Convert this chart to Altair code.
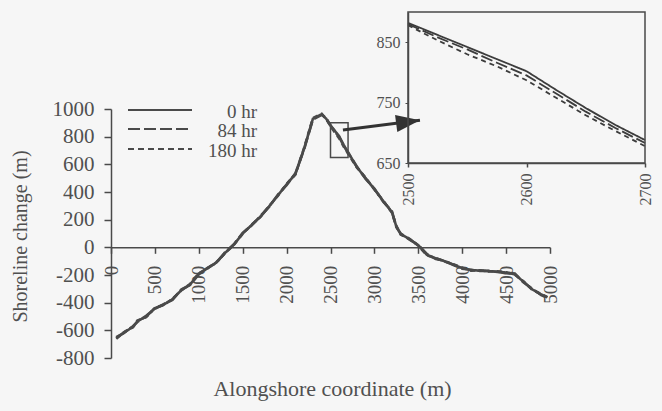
import altair as alt
import pandas as pd

# Alongshore coordinate of each profile point (m)
x_pos = [60, 150, 250, 300, 400, 500, 600, 700, 800, 900,
         1000, 1100, 1200, 1300, 1400, 1500, 1600, 1700, 1800, 1900,
         2000, 2100, 2200, 2300, 2400, 2450,
         2500, 2525, 2550, 2575, 2600, 2625, 2650, 2675, 2700,
         2800, 2900, 3000, 3100, 3200, 3250, 3300, 3400, 3500, 3600,
         3700, 3800, 3900, 4000, 4100, 4200, 4300, 4400, 4500, 4600,
         4700, 4800, 4900, 4970]

# Shoreline change (m) at each time
hr0 = [-655, -615, -575, -535, -500, -440, -415, -375, -310, -270,
       -190, -150, -110, -40, 20, 100, 160, 220, 295, 375,
       455, 530, 715, 930, 962, 930,
       882, 862, 842, 822, 802, 771, 741, 713, 688,
       580, 500, 420, 335, 255, 150, 95, 60, 15, -55,
       -80, -100, -125, -150, -165, -168, -172, -176, -182, -195,
       -250, -305, -340, -362]
hr84 = [-650, -618, -570, -540, -495, -445, -410, -380, -305, -272,
        -195, -148, -112, -35, 22, 105, 158, 225, 292, 380,
        450, 535, 710, 925, 958, 935,
        880, 858, 838, 816, 795, 765, 735, 708, 683,
        585, 495, 425, 330, 260, 145, 100, 55, 18, -50,
        -85, -98, -128, -155, -162, -170, -170, -178, -185, -190,
        -255, -300, -345, -365]
hr180 = [-660, -612, -578, -530, -505, -438, -418, -372, -312, -266,
         -188, -152, -108, -42, 18, 98, 163, 218, 298, 372,
         458, 526, 720, 935, 965, 928,
         878, 853, 830, 810, 787, 758, 729, 703, 678,
         578, 503, 418, 338, 250, 155, 92, 62, 12, -58,
         -78, -103, -122, -148, -168, -166, -174, -174, -180, -198,
         -246, -308, -338, -360]

series_names = ["0 hr", "84 hr", "180 hr"]

# Window shown in the enlarged panel
zoom_x = [2500, 2700]
zoom_y = [650, 900]

# Arrow from the window box to the enlarged panel (data coordinates)
arrow_x = [2642, 3519]
arrow_y = [848, 918]

x_ticks = list(range(0, 5001, 500))
y_ticks = list(range(-800, 1001, 200))
inset_x_ticks = [2500, 2600, 2700]
inset_y_ticks = [650, 750, 850]

rows = []
for name, vals in zip(series_names, [hr0, hr84, hr180]):
    for xv, yv in zip(x_pos, vals):
        rows.append({"x": xv, "y": yv, "series": name})
df = pd.DataFrame(rows)
inset_df = df[(df.x >= zoom_x[0]) & (df.x <= zoom_x[1])]

box_df = pd.DataFrame({"x0": [zoom_x[0]], "x1": [zoom_x[1]],
                       "y0": [zoom_y[0]], "y1": [zoom_y[1]]})
arrow_df = pd.DataFrame({"x0": [arrow_x[0]], "y0": [arrow_y[0]],
                         "x1": [arrow_x[1]], "y1": [arrow_y[1]]})

FONT = "Liberation Serif"
INK = "#4a4a4a"
TXT = "#505050"
W, H = 439, 249
PLAIN = "'' + datum.value"   # plain integers with a hyphen minus

dash_scale = alt.Scale(domain=series_names, range=[[1, 0], [12, 4], [5, 4]])

x_axis = alt.Axis(values=x_ticks, grid=False, orient="bottom", offset=-110.7,
                  labelExpr=PLAIN,
                  labelAngle=270, labelAlign="right", labelBaseline="middle",
                  labelPadding=12, tickSize=6, labelFont=FONT, labelFontSize=19,
                  labelColor=TXT, domainColor=INK, tickColor=INK,
                  domainWidth=1.5, tickWidth=1.5, labelFlush=False,
                  labelOverlap=False,
                  title="Alongshore coordinate (m)", titleFont=FONT,
                  titleFontSize=22, titleFontWeight="normal", titleColor=TXT,
                  titleX=221, titleY=141, titleAlign="center",
                  titleBaseline="middle")
y_axis = alt.Axis(values=y_ticks, grid=False, orient="left",
                  labelExpr=PLAIN, labelOverlap=False,
                  tickSize=7, labelPadding=10, labelFont=FONT, labelFontSize=21,
                  labelColor=TXT, domainColor=INK, tickColor=INK,
                  domainWidth=1.5, tickWidth=1.5, labelFlush=False,
                  title="Shoreline change (m)", titleFont=FONT,
                  titleFontSize=20, titleFontWeight="normal", titleColor=TXT,
                  titleX=-91, titleY=127, titleAngle=270, titleAlign="center",
                  titleBaseline="middle")
x_scale = alt.Scale(domain=[0, 5000], nice=False)
y_scale = alt.Scale(domain=[-800, 1000], nice=False)


def mx(field):
    return alt.X(field, scale=x_scale, axis=x_axis)


def my(field):
    return alt.Y(field, scale=y_scale, axis=y_axis)


lines = alt.Chart(df).mark_line(strokeWidth=2.6, color=INK).encode(
    x=mx("x:Q"), y=my("y:Q"),
    strokeDash=alt.StrokeDash("series:N", scale=dash_scale, legend=None),
    order=alt.Order("x:Q"),
)

box = alt.Chart(box_df).mark_rect(fill=None, stroke=INK, strokeWidth=1.5).encode(
    x=mx("x0:Q"), x2="x1:Q", y=my("y0:Q"), y2="y1:Q")

arrow_line = alt.Chart(arrow_df).mark_rule(color="#333333", strokeWidth=3).encode(
    x=mx("x0:Q"), y=my("y0:Q"), x2="x1:Q", y2="y1:Q")
arrow_head = alt.Chart(arrow_df).mark_point(
    shape="M0,0 L-1,-0.36 L-1,0.36 Z", size=2304, filled=True, opacity=1,
    color="#333333", angle=352.5).encode(x=mx("x1:Q"), y=my("y1:Q"))

# Hand-placed key in the upper-left corner of the plot
legend_layers = []
legend_dash = {"0 hr": [1, 0], "84 hr": [12, 4], "180 hr": [6, 4]}
legend_rows = {"0 hr": 1, "84 hr": 20, "180 hr": 40}
for name in series_names:
    ldf = pd.DataFrame({"series": [name]})
    yy = legend_rows[name]
    legend_layers.append(
        alt.Chart(ldf).mark_rule(color=INK, strokeWidth=2, strokeDash=legend_dash[name]).encode(
            x=alt.value(17), x2=alt.value(81), y=alt.value(yy)))
    legend_layers.append(
        alt.Chart(ldf).mark_text(align="right", baseline="middle", font=FONT,
                                 fontSize=19, color=TXT).encode(
            x=alt.value(146), y=alt.value(yy + 2), text="series:N"))

main = alt.layer(lines, box, arrow_line, arrow_head, *legend_layers)

# Enlarged panel, positioned through its own pixel ranges
ix_axis = alt.Axis(values=inset_x_ticks, grid=False, orient="bottom", offset=-195,
                   labelExpr=PLAIN,
                   labelAngle=270, labelAlign="right", labelBaseline="middle",
                   labelPadding=6, tickSize=4, labelFont=FONT, labelFontSize=16,
                   labelColor=TXT, domainColor=INK, tickColor=INK,
                   domainWidth=1.5, tickWidth=1.5, labelFlush=False,
                   labelOverlap=False, title=None)
iy_axis = alt.Axis(values=inset_y_ticks, grid=False, orient="left", offset=-297,
                   labelExpr=PLAIN, labelOverlap=False,
                   tickSize=3, labelPadding=5, labelFont=FONT, labelFontSize=16,
                   labelColor=TXT, domainColor=INK, tickColor=INK,
                   domainWidth=1.5, labelFlush=False, title=None)
ix_scale = alt.Scale(domain=zoom_x, range=[297, 534], nice=False)
iy_scale = alt.Scale(domain=zoom_y, range=[54, -97], nice=False)

inset_lines = alt.Chart(inset_df).mark_line(strokeWidth=1.8, color="#3c3c3c").encode(
    x=alt.X("x:Q", scale=ix_scale, axis=ix_axis),
    y=alt.Y("y:Q", scale=iy_scale, axis=iy_axis),
    strokeDash=alt.StrokeDash("series:N", scale=dash_scale, legend=None),
    order=alt.Order("x:Q"),
)
inset_frame = alt.Chart(box_df).mark_rect(fill=None, stroke=INK, strokeWidth=1.5).encode(
    x=alt.X("x0:Q", scale=ix_scale, axis=ix_axis), x2="x1:Q",
    y=alt.Y("y0:Q", scale=iy_scale, axis=iy_axis), y2="y1:Q")

inset = alt.layer(inset_lines, inset_frame)

chart = alt.layer(main, inset).resolve_scale(
    x="independent", y="independent"
).properties(
    width=W, height=H,
    autosize=alt.AutoSizeParams(type="none"),
    padding={"left": 111, "top": 109, "right": 662 - 111 - W, "bottom": 411 - 109 - H},
    background="#f6f6f6",
).configure_view(stroke=None).configure_axis(labelOverlap=False)

chart.save("out.html", embed_options={"renderer": "svg", "actions": False})
